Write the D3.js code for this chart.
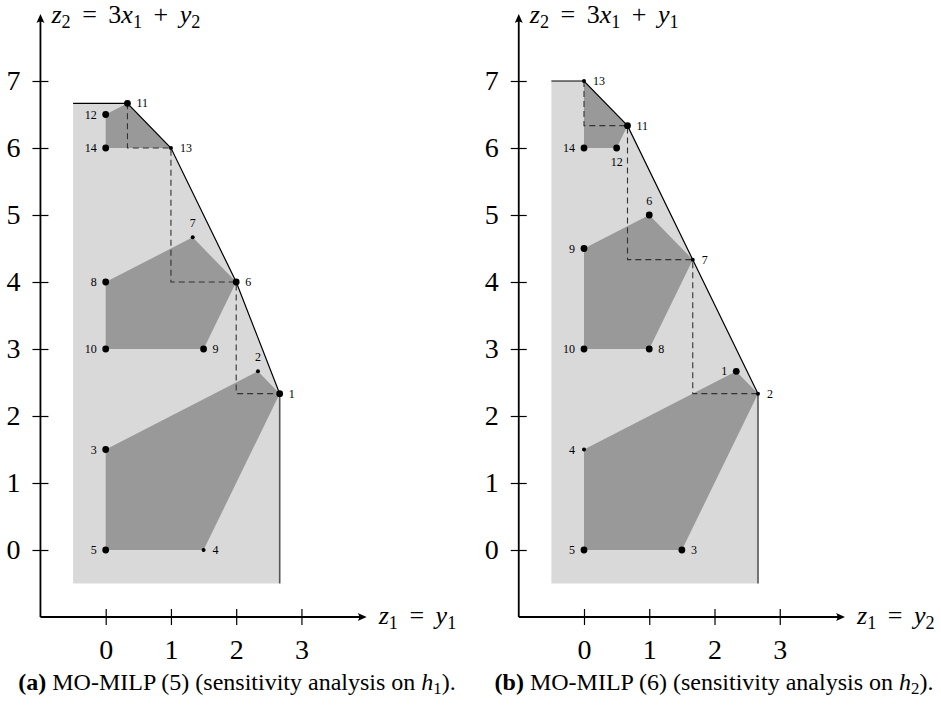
<!DOCTYPE html>
<html>
<head>
<meta charset="utf-8">
<script src="https://cdn.jsdelivr.net/npm/d3@7"></script>
<style>
  body { margin: 0; background: #fff; }
  svg text { font-family: "Liberation Serif", "Times New Roman", Times, "DejaVu Serif", serif; }
</style>
</head>
<body>
<div id="chart"></div>
<script>
'use strict';

var xTicks = [0, 1, 2, 3];
var yTicks = [0, 1, 2, 3, 4, 5, 6, 7];

// panel (a): points [id, z1, z2, big dot?]
var pointsA = [
  [1, 8/3, 7/3, true], [2, 7/3, 8/3, false], [3, 0, 1.5, true], [4, 1.5, 0, false],
  [5, 0, 0, true], [6, 2, 4, true], [7, 4/3, 14/3, false], [8, 0, 4, true],
  [9, 1.5, 3, true], [10, 0, 3, true], [11, 1/3, 20/3, true], [12, 0, 6.5, true],
  [13, 1, 6, false], [14, 0, 6, true]
];
var sidesA = { 1: "e", 2: "n", 3: "w", 4: "e", 5: "w", 6: "e", 7: "n", 8: "w",
               9: "e", 10: "w", 11: "e", 12: "w", 13: "e", 14: "w" };
var polysA = [
  [[0, 0], [1.5, 0], [8/3, 7/3], [7/3, 8/3], [0, 1.5]],
  [[0, 3], [1.5, 3], [2, 4], [4/3, 14/3], [0, 4]],
  [[0, 6], [1, 6], [1/3, 20/3], [0, 6.5]]
];
var regionA = [[-0.5, -0.5], [8/3, -0.5], [8/3, 7/3], [2, 4], [1, 6], [1/3, 20/3], [-0.5, 20/3]];
var frontierA = [[-0.5, 20/3], [1/3, 20/3], [1, 6], [2, 4], [8/3, 7/3]];
var stairsA = [[1/3, 20/3], [1/3, 6], [1, 6], [1, 4], [2, 4], [2, 7/3], [8/3, 7/3]];

// panel (b)
var pointsB = [
  [1, 7/3, 8/3, true], [2, 8/3, 7/3, false], [3, 1.5, 0, true], [4, 0, 1.5, false],
  [5, 0, 0, true], [6, 1, 5, true], [7, 5/3, 13/3, false], [8, 1, 3, true],
  [9, 0, 4.5, true], [10, 0, 3, true], [11, 2/3, 19/3, true], [12, 0.5, 6, true],
  [13, 0, 7, false], [14, 0, 6, true]
];
var sidesB = { 1: "w", 2: "e", 3: "e", 4: "w", 5: "w", 6: "n", 7: "e", 8: "e",
               9: "w", 10: "w", 11: "e", 12: "s", 13: "e", 14: "w" };
var polysB = [
  [[0, 0], [1.5, 0], [8/3, 7/3], [7/3, 8/3], [0, 1.5]],
  [[0, 3], [1, 3], [5/3, 13/3], [1, 5], [0, 4.5]],
  [[0, 6], [0.5, 6], [2/3, 19/3], [0, 7]]
];
var regionB = [[-0.5, -0.5], [8/3, -0.5], [8/3, 7/3], [5/3, 13/3], [2/3, 19/3], [0, 7], [-0.5, 7]];
var frontierB = [[-0.5, 7], [0, 7], [2/3, 19/3], [5/3, 13/3], [8/3, 7/3]];
var stairsB = [[0, 7], [0, 19/3], [2/3, 19/3], [2/3, 13/3], [5/3, 13/3], [5/3, 7/3], [8/3, 7/3]];

var svg = d3.select("#chart").append("svg")
  .attr("width", 941)
  .attr("height", 707);

// math label: list of [text, style] where style is "i" italic, "s" subscript, "" roman
function mathText(sel, parts) {
  var shifted = false;
  parts.forEach(function(p) {
    var t = sel.append("tspan").text(p[0]);
    if (p[1] == "i") t.attr("font-style", "italic");
    if (p[1] == "s") {
      t.attr("font-size", "70%").attr("dy", 5);
      shifted = true;
    } else if (shifted) {
      t.attr("dy", -5);
      shifted = false;
    }
  });
}

function drawPanel(cfg) {
  var x = d3.scaleLinear().domain([0, 3]).range([cfg.x0, cfg.x0 + 3 * 65.25]);
  var y = d3.scaleLinear().domain([0, 7]).range([550, 550 - 7 * 67]);
  var g = svg.append("g");
  var line = d3.line().x(function(d) { return x(d[0]); }).y(function(d) { return y(d[1]); });

  // feasible region (light) and the dark polytopes
  g.append("path").attr("d", line(cfg.region) + "Z").attr("fill", "#d9d9d9");
  cfg.polys.forEach(function(p) {
    g.append("path").attr("d", line(p) + "Z").attr("fill", "#999999");
  });

  // staircase
  g.append("path")
    .attr("d", line(cfg.stairs))
    .attr("fill", "none")
    .attr("stroke", "#333")
    .attr("stroke-width", 1.1)
    .attr("stroke-dasharray", "6,4");

  // right border of region
  var last = cfg.frontier[cfg.frontier.length - 1];
  g.append("path")
    .attr("d", line([last, [last[0], -0.5]]))
    .attr("stroke", "#555")
    .attr("stroke-width", 1.6);

  // frontier
  g.append("path")
    .attr("d", line(cfg.frontier))
    .attr("fill", "none")
    .attr("stroke", "#000")
    .attr("stroke-width", 1.2);

  // axes
  var xAxisG = g.append("g")
    .attr("transform", "translate(0," + y(-1) + ")")
    .call(d3.axisBottom(x).tickValues(xTicks).tickSize(8).tickPadding(14).tickFormat(d3.format("d")));
  xAxisG.select(".domain").remove();
  xAxisG.selectAll(".tick line").attr("y1", -8).attr("y2", 8).attr("stroke-width", 1.2);
  xAxisG.selectAll(".tick text").attr("font-size", 28).attr("fill", "#000");

  var yAxisG = g.append("g")
    .attr("transform", "translate(" + x(-1) + ",0)")
    .call(d3.axisLeft(y).tickValues(yTicks).tickSize(8).tickPadding(12).tickFormat(d3.format("d")));
  yAxisG.select(".domain").remove();
  yAxisG.selectAll(".tick line").attr("x1", -8).attr("x2", 8).attr("stroke-width", 1.2);
  yAxisG.selectAll(".tick text").attr("font-size", 28).attr("fill", "#000");

  // axis lines with arrows
  g.append("line")
    .attr("x1", x(-1)).attr("y1", y(-1))
    .attr("x2", x(3.93)).attr("y2", y(-1))
    .attr("stroke", "#000").attr("stroke-width", 1.8);
  g.append("line")
    .attr("x1", x(-1)).attr("y1", y(-1))
    .attr("x2", x(-1)).attr("y2", y(7.94))
    .attr("stroke", "#000").attr("stroke-width", 1.8);
  var tx = x(4), ty = y(-1);
  g.append("path")
    .attr("d", "M" + tx + "," + ty + " L" + (tx - 9) + "," + (ty - 4) + " Q" + (tx - 6) + "," + ty + " " + (tx - 9) + "," + (ty + 4) + "Z")
    .attr("fill", "#000");
  var ax = x(-1), ay = y(8);
  g.append("path")
    .attr("d", "M" + ax + "," + ay + " L" + (ax - 4) + "," + (ay + 9) + " Q" + ax + "," + (ay + 6) + " " + (ax + 4) + "," + (ay + 9) + "Z")
    .attr("fill", "#000");

  // axis titles
  var xt = g.append("text")
    .attr("x", tx + 12).attr("y", ty + 7)
    .attr("font-size", 26)
    .attr("word-spacing", 5);
  mathText(xt, cfg.xTitle);
  var yt = g.append("text")
    .attr("x", ax + 11).attr("y", ay + 9)
    .attr("font-size", 26)
    .attr("word-spacing", 5);
  mathText(yt, cfg.yTitle);

  // points and labels
  var pts = g.selectAll(".pt").data(cfg.points).enter().append("g").attr("class", "pt");
  pts.append("circle")
    .attr("cx", function(d) { return x(d[1]); })
    .attr("cy", function(d) { return y(d[2]); })
    .attr("r", function(d) { return d[3] ? 3.4 : 2; })
    .attr("fill", "#000");
  pts.append("text")
    .attr("font-size", 12)
    .attr("x", function(d) {
      var s = cfg.sides[d[0]];
      return x(d[1]) + (s == "e" ? 9 : s == "w" ? -9 : 0);
    })
    .attr("y", function(d) {
      var s = cfg.sides[d[0]];
      return y(d[2]) + (s == "n" ? -10 : s == "s" ? 18 : 4);
    })
    .attr("text-anchor", function(d) {
      var s = cfg.sides[d[0]];
      return s == "e" ? "start" : s == "w" ? "end" : "middle";
    })
    .text(function(d) { return d[0]; });

  // caption
  var cap = g.append("text")
    .attr("x", cfg.capX).attr("y", 690)
    .attr("text-anchor", "middle")
    .attr("font-size", 24);
  cap.append("tspan").attr("font-weight", "bold").text(cfg.capLabel);
  cap.append("tspan").text(cfg.capText);
  cap.append("tspan").attr("font-style", "italic").text("h");
  cap.append("tspan").attr("font-size", "70%").attr("dy", 4).text(cfg.capSub);
  cap.append("tspan").attr("dy", -4).text(").");
}

drawPanel({
  x0: 105.7, points: pointsA, sides: sidesA, polys: polysA, region: regionA,
  frontier: frontierA, stairs: stairsA,
  xTitle: [["z", "i"], ["1", "s"], [" = ", ""], ["y", "i"], ["1", "s"]],
  yTitle: [["z", "i"], ["2", "s"], [" = 3", ""], ["x", "i"], ["1", "s"], [" + ", ""], ["y", "i"], ["2", "s"]],
  capX: 237, capLabel: "(a)", capText: " MO-MILP (5) (sensitivity analysis on ", capSub: "1"
});

drawPanel({
  x0: 584, points: pointsB, sides: sidesB, polys: polysB, region: regionB,
  frontier: frontierB, stairs: stairsB,
  xTitle: [["z", "i"], ["1", "s"], [" = ", ""], ["y", "i"], ["2", "s"]],
  yTitle: [["z", "i"], ["2", "s"], [" = 3", ""], ["x", "i"], ["1", "s"], [" + ", ""], ["y", "i"], ["1", "s"]],
  capX: 714, capLabel: "(b)", capText: " MO-MILP (6) (sensitivity analysis on ", capSub: "2"
});
</script>
</body>
</html>
